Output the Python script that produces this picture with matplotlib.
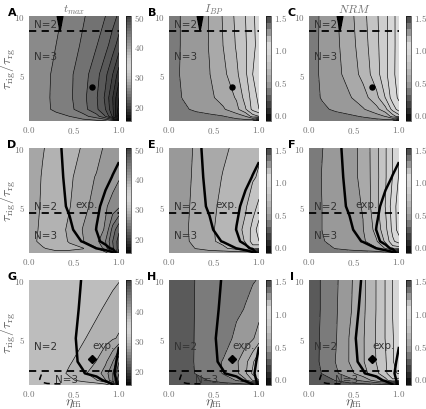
import numpy as np
import matplotlib
matplotlib.use("Agg")
import matplotlib.pyplot as plt
from matplotlib.colors import LinearSegmentedColormap, Normalize

plt.rcParams['mathtext.fontset'] = 'cm'

# grid of the parameter plane (eta_ffi across, tau_rig/tau_rg up)
eta = [0.0, 0.15, 0.3, 0.45, 0.6, 0.75, 0.85, 0.93, 1.0]
tau = [1.0, 1.4, 2.0, 3.0, 5.0, 7.5, 10.0]

# values, one row per tau value (bottom to top)
tmax_A = [[25.5, 25.5, 25.5, 25.5, 25.4, 25.3, 25.1, 24.5, 15.0],
          [25.5, 25.5, 25.3, 25.0, 24.4, 23.4, 22.0, 19.8, 15.5],
          [25.5, 25.3, 24.8, 24.3, 23.4, 22.2, 21.0, 19.2, 16.5],
          [25.6, 25.3, 24.75, 24.2, 23.3, 22.1, 20.8, 19.0, 17.0],
          [25.7, 25.3, 24.8, 24.2, 23.45, 22.35, 21.25, 20.0, 18.5],
          [25.8, 25.5, 25.0, 24.45, 23.85, 23.05, 22.35, 21.5, 20.5],
          [25.8, 25.6, 25.2, 24.7, 24.1, 23.5, 23.0, 22.4, 21.8]]
ibp_B = [[.35, .35, .35, .35, .35, .35, .35, .30, -.05],
         [.35, .35, .36, .375, .395, .45, .50, .65, .70],
         [.35, .38, .42, .45, .486, .57, .69, .83, .90],
         [.35, .403, .441, .48, .535, .61, .74, .84, .93],
         [.35, .414, .456, .497, .57, .68, .78, .90, .95],
         [.35, .41, .45, .505, .60, .71, .79, .87, .94],
         [.35, .41, .456, .503, .607, .723, .80, .88, .95]]
nrm_C = [[.35, .35, .35, .35, .35, .35, .35, .30, -.05],
         [.35, .35, .36, .38, .41, .46, .505, .65, .75],
         [.35, .38, .42, .455, .49, .567, .67, .84, .95],
         [.35, .41, .45, .49, .555, .67, .805, .95, 1.02],
         [.35, .42, .47, .54, .63, .76, .875, .975, 1.05],
         [.35, .42, .48, .555, .655, .775, .874, .97, 1.05],
         [.35, .418, .486, .567, .669, .785, .873, .971, 1.05]]
tmax_D = [[27.6, 27.6, 27.6, 27.6, 27.6, 27.6, 27.4, 26.0, 19.0],
          [27.6, 27.9, 28.4, 28.3, 28.05, 27.1, 25.5, 23.2, 21.5],
          [27.6, 28.3, 28.6, 27.9, 27.05, 26.3, 25.0, 23.0, 21.5],
          [27.6, 28.2, 28.5, 27.8, 26.95, 26.4, 25.9, 23.6, 22.2],
          [27.6, 28.1, 28.4, 28.05, 27.3, 26.6, 26.1, 25.7, 25.2],
          [27.6, 28.05, 28.35, 28.15, 27.6, 26.9, 26.6, 26.35, 26.1],
          [27.6, 27.95, 28.3, 28.2, 27.95, 27.55, 26.75, 26.45, 26.15]]
ibp_E = [[.44, .44, .44, .44, .44, .44, .44, .40, -.05],
         [.44, .45, .505, .55, .58, .64, .67, .75, .70],
         [.44, .47, .53, .58, .625, .67, .705, .85, .90],
         [.44, .475, .533, .583, .63, .67, .72, .84, .95],
         [.44, .47, .526, .575, .62, .66, .69, .75, .83],
         [.44, .47, .516, .557, .605, .65, .68, .69, .71],
         [.44, .47, .51, .548, .583, .62, .645, .665, .685]]
nrm_F = [[.35, .35, .35, .35, .35, .35, .35, .30, -.05],
         [.35, .37, .405, .43, .455, .49, .61, .75, .75],
         [.35, .395, .424, .452, .48, .59, .72, .88, .95],
         [.35, .402, .433, .464, .496, .637, .77, .93, 1.05],
         [.35, .402, .435, .467, .505, .675, .805, .95, 1.05],
         [.35, .405, .435, .47, .52, .67, .79, .905, 1.01],
         [.35, .399, .433, .47, .522, .673, .79, .905, .99]]
tmax_G = [[29.8, 29.8, 29.8, 29.8, 29.8, 29.7, 29.5, 28.5, 20.0],
          [29.8, 29.8, 29.6, 29.2, 28.7, 28.05, 27.05, 25.05, 22.0],
          [29.8, 29.8, 29.4, 28.85, 28.2, 27.5, 26.5, 25.05, 23.05],
          [29.8, 29.8, 29.54, 29.09, 28.64, 27.97, 27.2, 26.05, 24.05],
          [29.8, 29.8, 29.8, 29.54, 29.09, 28.64, 28.34, 28.1, 27.9],
          [29.8, 29.8, 29.8, 29.8, 29.63, 29.18, 28.88, 28.64, 28.43],
          [29.8, 29.8, 29.8, 29.8, 29.8, 29.75, 29.45, 29.21, 29.05]]
ibp_H = [[.25, .25, .25, .25, .25, .25, .25, .20, -.05],
         [.25, .25, .27, .305, .35, .405, .48, .605, .70],
         [.25, .26, .305, .35, .405, .475, .583, .72, .75],
         [.25, .27, .306, .355, .405, .485, .57, .68, .80],
         [.25, .27, .305, .33, .36, .42, .458, .488, .55],
         [.25, .27, .304, .329, .357, .385, .404, .43, .46],
         [.25, .27, .303, .325, .346, .368, .383, .394, .405]]
nrm_I = [[.25, .25, .25, .25, .25, .25, .25, .20, -.05],
         [.25, .26, .305, .36, .43, .55, .66, .78, .75],
         [.25, .305, .385, .47, .56, .675, .78, .88, .91],
         [.25, .317, .405, .505, .59, .705, .79, .89, .97],
         [.25, .315, .395, .505, .59, .71, .805, .89, .98],
         [.25, .31, .39, .485, .58, .705, .805, .905, .98],
         [.25, .31, .385, .48, .575, .705, .805, .905, .98]]

# experimental window (thick lines at 0 and 1)
exp_row2 = [[-3, -3, -3, -3, -3, -3, -1, -0.3, 2.0],
            [-5, -4, -3, -2, -1, 0.02, .67, 1.2, 1.67],
            [-2.76, -2.05, -1.33, -.62, .095, .81, 1.29, 1.67, 2.0],
            [-1.92, -1.33, -.75, -.16, .43, 1.02, 1.41, 1.73, 2.0],
            [-1.08, -.68, -.29, .105, .5, .895, 1.16, 1.37, 1.55],
            [-.70, -.43, -.15, .13, .41, .69, .87, 1.02, 1.15],
            [-.49, -.28, -.08, .12, .32, .53, .66, .77, .86]]
exp_row3 = [[-1, -1, -1, -1, -1, -1, -1, -0.1, 1.5],
            [-1, -1, -1, -1, -1, -.47, .2, .73, 1.2],
            [-1.88, -1.42, -.97, -.52, -.06, .39, .7, .94, 1.15],
            [-1.26, -.91, -.56, -.21, .14, .49, .72, .91, 1.07],
            [-1.04, -.74, -.44, -.14, .16, .46, .66, .82, .96],
            [-.92, -.67, -.42, -.17, .08, .33, .5, .63, .75],
            [-.8, -.6, -.39, -.18, .03, .24, .375, .49, .58]]
# narrow experimental wedge near the top of row 1
wedge_eta = [0.26, 0.31, 0.345, 0.38, 0.43]
wedge_tau = [8.0, 8.7, 10.0]
wedge_val = [[1, 1, 1, 1, 1],
             [1, 1, 0.1, 1, 1],
             [1, 0.3, -2, 0.3, 1]]
# N=3 pocket in row 3
pocket_eta = [0.05, 0.1, 0.15, 0.2, 0.3, 0.35]
pocket_tau = [1.0, 1.2, 1.5, 1.9]
pocket_val = [[1, 1, 1, 1, 1, 1],
              [1, 1, .2, -.5, -1, -1],
              [1, .3, -.5, -1, -1, -1],
              [1, .6, -.2, -1, -1, -1]]

n_boundary = [8.75, 4.4, 2.2]
exp_point = {0: (0.7, 3.95, 'o'), 2: (0.7, 3.2, 'D')}

fields = [[tmax_A, ibp_B, nrm_C], [tmax_D, ibp_E, nrm_F], [tmax_G, ibp_H, nrm_I]]
letters = ['A', 'B', 'C', 'D', 'E', 'F', 'G', 'H', 'I']
titles = ['$t_{max}$', '$I_{BP}$', '$NRM$']


def gray_map(name, nodes, lo, hi):
    pts = [((v - lo) / (hi - lo), (g, g, g)) for v, g in nodes]
    return LinearSegmentedColormap.from_list(name, pts)


cmap_t = gray_map('tm', [(15, .03), (20, .28), (25, .52), (28, .68), (30, .76), (33, .84),
                         (36, .8), (40, .62), (45, .45), (50, .25)], 15, 50)
cmap_r = gray_map('rt', [(-.1, .03), (0, .12), (.2, .3), (.3, .42), (.35, .49), (.45, .6),
                         (.6, .69), (.8, .79), (1.0, .86), (1.1, .85), (1.25, .6), (1.5, .25)],
                  -.1, 1.5)
lev_t = np.arange(15, 50.01, 1.0)
lev_r = np.round(np.arange(-0.1, 1.501, 0.1), 2)

W, H = 426, 410
fig = plt.figure(figsize=(W / 100, H / 100), dpi=100)
col_left = [29, 169, 309]
row_top = [17, 149, 281]
aw, ah = 90, 105

for r in range(3):
    for c in range(3):
        L, T = col_left[c], row_top[r]
        ax = fig.add_axes([L / W, 1 - (T + ah) / H, aw / W, ah / H])
        cax = fig.add_axes([(L + 97) / W, 1 - (T + ah) / H, 5 / W, ah / H])
        Z = np.array(fields[r][c])
        if c == 0:
            lev, cmap, norm = lev_t, cmap_t, Normalize(15, 50)
            cticks, clabels = [20, 30, 40, 50], ['$20$', '$30$', '$40$', '$50$']
        else:
            lev, cmap, norm = lev_r, cmap_r, Normalize(-0.1, 1.5)
            cticks, clabels = [0, .5, 1, 1.5], ['$0.0$', '$0.5$', '$1.0$', '$1.5$']
        cf = ax.contourf(eta, tau, Z, levels=lev, cmap=cmap, norm=norm)
        ax.contour(eta, tau, Z, levels=lev, colors='k', linewidths=0.45)

        if r == 0:
            ax.contourf(wedge_eta, wedge_tau, wedge_val, levels=[-10, 0], colors='k')
            ax.contour(wedge_eta, wedge_tau, wedge_val, levels=[0], colors='k', linewidths=1.2)
        else:
            g = exp_row2 if r == 1 else exp_row3
            ax.contour(eta, tau, g, levels=[0, 1], colors='k', linewidths=1.8)
        if r == 2:
            ax.contour(pocket_eta, pocket_tau, pocket_val, levels=[0], colors='k',
                       linewidths=1.1, linestyles=[(0, (4, 3))])

        ax.axhline(n_boundary[r], color='k', lw=1.3, ls=(0, (4, 3)))
        if r in exp_point:
            px, py, m = exp_point[r]
            ax.plot(px, py, m, ms=3.6, color='k')

        tk = dict(fontsize=7.5, color='0.2')
        if r == 0:
            ax.text(0.06, 9.3, 'N=2', va='center', **tk)
            ax.text(0.06, 6.6, 'N=3', va='center', **tk)
        elif r == 1:
            ax.text(0.06, 5.0, 'N=2', va='center', **tk)
            ax.text(0.06, 2.5, 'N=3', va='center', **tk)
            ax.text(0.52, 5.2, 'exp.', va='center', **tk)
        else:
            ax.text(0.06, 4.3, 'N=2', va='center', **tk)
            ax.text(0.29, 1.55, 'N=3', va='center', **tk)
            ax.text(0.7, 4.45, 'exp.', va='center', **tk)

        ax.set_xlim(0, 1)
        ax.set_ylim(1, 10)
        ax.set_xticks([0, 0.5, 1])
        ax.set_xticklabels(['$0.0$', '$0.5$', '$1.0$'])
        ax.set_yticks([5, 10])
        ax.set_yticklabels(['$5$', '$10$'])
        ax.tick_params(length=0, labelsize=6.5, labelcolor='0.45', pad=3)
        ax.tick_params(axis='x', pad=2)
        for s in ax.spines.values():
            s.set_visible(False)

        cb = fig.colorbar(cf, cax=cax, ticks=cticks)
        cb.set_ticklabels(clabels)
        cb.outline.set_linewidth(0.4)
        cax.tick_params(length=0, labelsize=6.5, labelcolor='0.45', pad=2)

        fig.text((L - 17) / W, 1 - (T - 4) / H, letters[r * 3 + c], fontsize=8,
                 fontweight='bold', ha='center', va='center')
        if r == 0:
            ax.set_title(titles[c], fontsize=8.5, color='0.45', pad=3)
        if c == 0:
            ax.set_ylabel(r'$\tau_{\rm rig}/\tau_{\rm rg}$', fontsize=10, color='0.35')
            ax.yaxis.set_label_coords(-0.12, 0.5)
        if r == 2:
            ax.set_xlabel(r'$\eta_{\rm ffi}$', fontsize=10, color='0.35')
            ax.xaxis.set_label_coords(0.5, -0.1)

fig.savefig('out.png', dpi=100)
